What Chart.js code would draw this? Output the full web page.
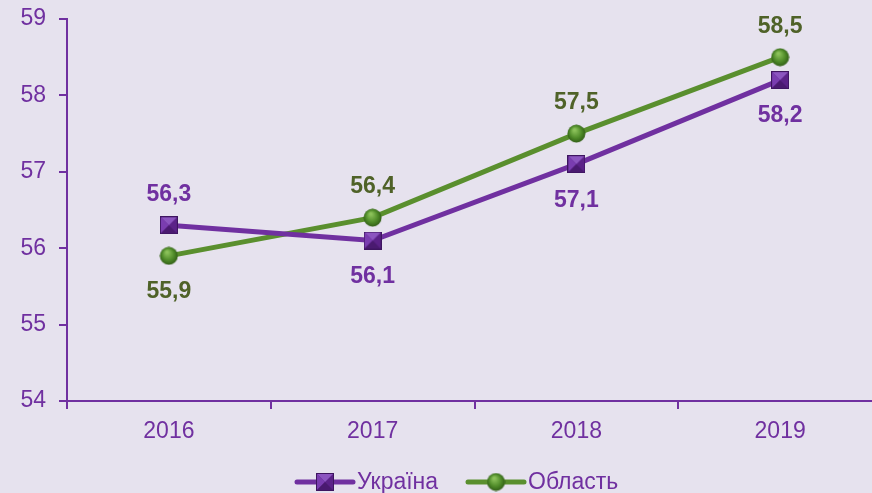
<!DOCTYPE html>
<html>
<head>
<meta charset="utf-8">
<script src="https://cdn.jsdelivr.net/npm/chart.js"></script>
<style>
  html, body { margin: 0; padding: 0; background: #E6E2EE; overflow: hidden; }
  #wrap { width: 872px; height: 493px; overflow: hidden; }
</style>
</head>
<body>
<div id="wrap"><canvas id="chart" width="900" height="493"></canvas></div>
<script>
// chart data
const years = ['2016', '2017', '2018', '2019'];
const ukraine = [56.3, 56.1, 57.1, 58.2];
const oblast = [55.9, 56.4, 57.5, 58.5];
const yTicks = [54, 55, 56, 57, 58, 59];
// which side of the point the value label goes
const ukraineLabelPos = ['above', 'below', 'below', 'below'];
const oblastLabelPos = ['below', 'above', 'above', 'above'];

const PURPLE = '#7030A0';
const GREEN = '#5A8F2E';
const GREEN_TEXT = '#4F6228';
const FONT = '"Liberation Sans", Arial, sans-serif';

// bevelled square marker
function makeSquare(size) {
    const c = document.createElement('canvas');
    c.width = size; c.height = size;
    const g = c.getContext('2d');
    const m = size / 2;
    g.fillStyle = '#5B2288';
    g.fillRect(0, 0, size, size);
    // top face
    g.fillStyle = '#8C55C0';
    g.beginPath(); g.moveTo(0, 0); g.lineTo(size, 0); g.lineTo(m, m); g.closePath(); g.fill();
    // left face
    g.fillStyle = '#7A3DB0';
    g.beginPath(); g.moveTo(0, 0); g.lineTo(0, size); g.lineTo(m, m); g.closePath(); g.fill();
    // bottom face
    g.fillStyle = '#4A1A70';
    g.beginPath(); g.moveTo(0, size); g.lineTo(size, size); g.lineTo(m, m); g.closePath(); g.fill();
    g.strokeStyle = '#3E1560'; g.lineWidth = 1;
    g.strokeRect(0.5, 0.5, size - 1, size - 1);
    return c;
}

// shaded ball marker
function makeBall(size) {
    const c = document.createElement('canvas');
    c.width = size; c.height = size;
    const g = c.getContext('2d');
    const r = size / 2;
    const grad = g.createRadialGradient(r * 0.8, r * 0.6, 1, r, r, r);
    grad.addColorStop(0, '#8CC25A');
    grad.addColorStop(0.6, '#4E8A28');
    grad.addColorStop(1, '#2F5A15');
    g.fillStyle = grad;
    g.beginPath(); g.arc(r, r, r - 0.5, 0, Math.PI * 2); g.fill();
    return c;
}

const squareImg = makeSquare(18);
const ballImg = makeBall(19);

// value labels next to the points
const valueLabels = {
    id: 'valueLabels',
    afterDatasetsDraw(chart) {
        const ctx = chart.ctx;
        ctx.save();
        ctx.font = 'bold 23px ' + FONT;
        ctx.textAlign = 'center';
        ctx.textBaseline = 'middle';
        chart.data.datasets.forEach((ds, i) => {
            const meta = chart.getDatasetMeta(i);
            meta.data.forEach((pt, j) => {
                const above = ds.labelPos[j] === 'above';
                ctx.fillStyle = ds.labelColor;
                const txt = ds.data[j].toFixed(1).replace('.', ',');
                ctx.fillText(txt, pt.x, pt.y + (above ? -31 : 36));
            });
        });
        ctx.restore();
    }
};

// legend with line + marker like the original
const lineLegend = {
    id: 'lineLegend',
    afterDraw(chart) {
        const ctx = chart.ctx;
        const y = 482;
        const items = [
            { x: 297, img: squareImg, color: PURPLE, text: chart.data.datasets[0].label },
            { x: 468, img: ballImg, color: GREEN, text: chart.data.datasets[1].label }
        ];
        ctx.save();
        ctx.font = '23px ' + FONT;
        ctx.textBaseline = 'middle';
        items.forEach(it => {
            ctx.strokeStyle = it.color;
            ctx.lineWidth = 5;
            ctx.lineCap = 'round';
            ctx.beginPath(); ctx.moveTo(it.x, y); ctx.lineTo(it.x + 56, y); ctx.stroke();
            ctx.drawImage(it.img, it.x + 28 - it.img.width / 2, y - it.img.height / 2);
            ctx.fillStyle = PURPLE;
            ctx.fillText(it.text, it.x + 60, y + 1);
        });
        ctx.restore();
    }
};

new Chart(document.getElementById('chart'), {
    type: 'line',
    data: {
        labels: years,
        datasets: [
            {
                label: 'Україна',
                data: ukraine,
                borderColor: PURPLE,
                borderWidth: 5,
                pointStyle: squareImg,
                labelColor: PURPLE,
                labelPos: ukraineLabelPos,
                tension: 0
            },
            {
                label: 'Область',
                data: oblast,
                borderColor: GREEN,
                borderWidth: 5,
                pointStyle: ballImg,
                labelColor: GREEN_TEXT,
                labelPos: oblastLabelPos,
                tension: 0
            }
        ]
    },
    options: {
        responsive: false,
        animation: false,
        layout: { padding: { top: 19, right: 18, left: 0, bottom: 0 } },
        plugins: {
            legend: { display: false },
            tooltip: { enabled: false }
        },
        scales: {
            x: {
                offset: true,
                grid: {
                    offset: true,
                    drawOnChartArea: false,
                    color: PURPLE,
                    lineWidth: 2,
                    tickLength: 8
                },
                border: { color: PURPLE, width: 2 },
                ticks: {
                    color: PURPLE,
                    padding: 9,
                    font: { family: FONT, size: 23 }
                },
                afterFit(s) { s.height = 92; s.paddingLeft = 0; s.paddingRight = 0; }
            },
            y: {
                min: 54,
                max: 59,
                afterBuildTicks(s) { s.ticks = yTicks.map(v => ({ value: v })); },
                grid: {
                    drawOnChartArea: false,
                    color: PURPLE,
                    lineWidth: 2,
                    tickLength: 8
                },
                border: { color: PURPLE, width: 2 },
                ticks: {
                    color: PURPLE,
                    padding: 13,
                    font: { family: FONT, size: 23 }
                },
                afterFit(s) { s.width = 67; s.paddingTop = 0; s.paddingBottom = 0; }
            }
        }
    },
    plugins: [valueLabels, lineLegend]
});
</script>
</body>
</html>
